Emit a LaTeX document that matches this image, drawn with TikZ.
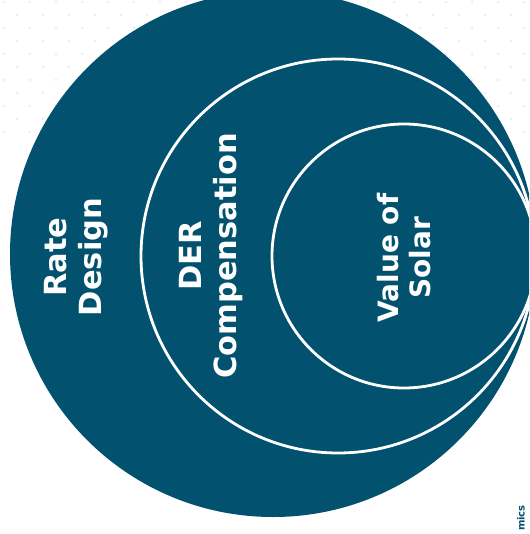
\documentclass[tikz,border=0pt]{standalone}
\usepackage{fontspec}
\setmainfont{DejaVu Sans}
\definecolor{circfill}{HTML}{01516F}
\definecolor{dotc}{HTML}{EDEDED}
\tikzset{
  disc/.style={circle, fill=circfill, inner sep=0pt},
  ring/.style={circle, draw=white, line width=2.8pt, inner sep=0pt},
  lbl/.style={rotate=90, text=white, align=center, inner sep=0pt, font=\bfseries\fontsize{30.5}{35}\selectfont},
  lblsmall/.style={rotate=90, text=white, align=center, inner sep=0pt, font=\bfseries\fontsize{28}{32}\selectfont}
}
\begin{document}
\begin{tikzpicture}[x=1pt,y=-1pt]
\useasboundingbox (0,0) rectangle (529,534);
\begin{scope}
\clip (0,0) rectangle (529,534);
\foreach \r in {0,...,10} {
  \foreach \c in {0,...,20} {
    \fill[dotc] ({\c*26 + mod(\r,2)*13 + 4}, {\r*13 + 2}) circle (1.5);
  }
}
\node[disc, minimum size=526pt] (outer) at (273,254) {};
\node[ring, minimum size=394pt] (middle) at (338,256) {};
\node[ring, minimum size=264pt] (inner) at (404,256) {};
\node[lbl] (rate) at (76,257) {Rate\\Design};
\node[lbl] (der) at (211,256) {DER\\Compensation};
\node[lblsmall] (vos) at (404,258) {Value of\\Solar};
\node[rotate=90, anchor=east, text=circfill, inner sep=0pt, font=\bfseries\fontsize{10}{12}\selectfont] (econ) at (521,505) {mics};
\end{scope}
\end{tikzpicture}
\end{document}
